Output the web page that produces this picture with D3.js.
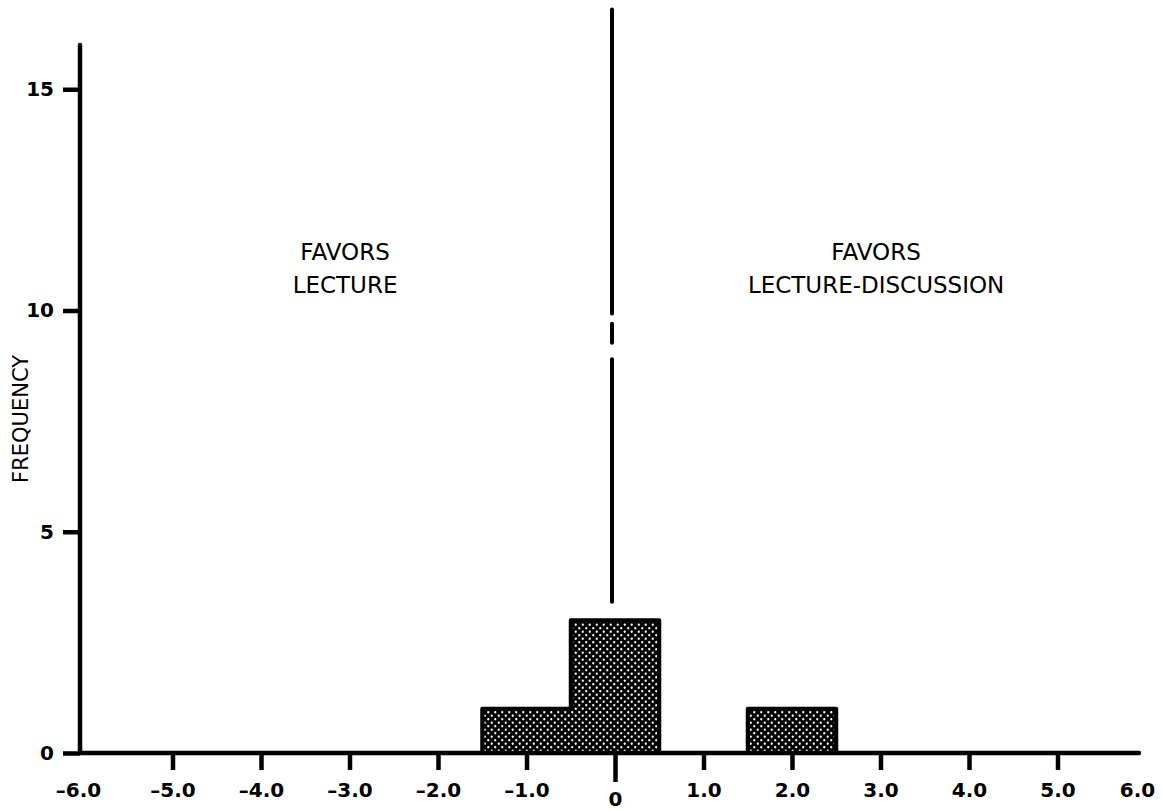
<!DOCTYPE html>
<html>
<head>
<meta charset="utf-8">
<script src="https://cdn.jsdelivr.net/npm/d3@7"></script>
<style>
  html, body { margin: 0; padding: 0; background: #fff; }
  svg { display: block; }
</style>
</head>
<body>
<svg id="chart" width="1162" height="811"></svg>
<script>
// ---- data ----
const binCenters = [-1, 0, 2];          // score bins (width 1.0)
const frequencies = [1, 3, 1];          // counts per bin
const xTicks = [-6, -5, -4, -3, -2, -1, 0, 1, 2, 3, 4, 5, 6];
const yTicks = [0, 5, 10, 15];
const leftLabel = ["FAVORS", "LECTURE"];
const rightLabel = ["FAVORS", "LECTURE-DISCUSSION"];
const yTitle = "FREQUENCY";

// ---- layout ----
const svg = d3.select("#chart");
const x = d3.scaleLinear().domain([-6, 6]).range([84, 1146]);
const y = d3.scaleLinear().domain([0, 16]).range([753, 45]);
const yAxisX = 80;
const ink = "#000";

// halftone pattern
const defs = svg.append("defs");
const pat = defs.append("pattern")
  .attr("id", "dots").attr("patternUnits", "userSpaceOnUse")
  .attr("width", 7).attr("height", 7);
pat.append("rect").attr("width", 7).attr("height", 7).attr("fill", ink);
pat.append("circle").attr("cx", 1.75).attr("cy", 1.75).attr("r", 1.15).attr("fill", "#fff");
pat.append("circle").attr("cx", 5.25).attr("cy", 5.25).attr("r", 1.15).attr("fill", "#fff");

// bars: outline first, then pattern fill merged across adjacent bars
const bars = binCenters.map((c, i) => ({ c, f: frequencies[i] }));
const fOf = c => { const b = bars.find(d => d.c === c); return b ? b.f : 0; };
const gb = svg.append("g");
gb.selectAll("rect.outline").data(bars).join("rect").attr("class", "outline")
  .attr("x", d => x(d.c - 0.5))
  .attr("y", d => y(d.f))
  .attr("width", d => x(d.c + 0.5) - x(d.c - 0.5))
  .attr("height", d => y(0) - y(d.f))
  .attr("fill", ink)
  .attr("stroke", ink).attr("stroke-width", 4).attr("stroke-linejoin", "round");
const sw = 2.2;
gb.selectAll("rect.fill").data(bars).join("rect").attr("class", "fill")
  .attr("x", d => x(d.c - 0.5) + (fOf(d.c - 1) > d.f ? -sw - 1 : sw))
  .attr("y", d => y(d.f) + sw)
  .attr("width", d => {
    const l = x(d.c - 0.5) + (fOf(d.c - 1) > d.f ? -sw - 1 : sw);
    const r = x(d.c + 0.5) + (fOf(d.c + 1) > d.f ? sw + 1 : -sw);
    return r - l;
  })
  .attr("height", d => y(0) - y(d.f) - sw)
  .attr("fill", "url(#dots)");

// x axis
const xAxis = d3.axisBottom(x)
  .tickValues(xTicks)
  .tickSize(17)
  .tickPadding(0)
  .tickFormat(d => d < 0 ? "\u2013" + Math.abs(d).toFixed(1) : d === 0 ? "0" : d.toFixed(1));
const gx = svg.append("g").attr("transform", `translate(0,${y(0)})`).call(xAxis);
gx.select(".domain").remove();
gx.selectAll(".tick line").attr("stroke", ink).attr("stroke-width", 4.5)
  .attr("y2", d => d === 0 ? 29 : 17)
  .style("display", d => (d === -6 || d === 6) ? "none" : null);
gx.selectAll(".tick text")
  .attr("y", d => d === 0 ? 39 : 30)
  .attr("dx", d => d === 6 ? -9 : d === -6 ? -6 : 0)
  .attr("fill", ink)
  .style("font-family", "'DejaVu Sans', sans-serif")
  .style("font-weight", "bold")
  .style("font-size", "20px");
// baseline
svg.append("line")
  .attr("x1", yAxisX).attr("x2", x(5.92))
  .attr("y1", y(0)).attr("y2", y(0))
  .attr("stroke", ink).attr("stroke-width", 4.5).attr("stroke-linecap", "round");

// y axis
const yAxis = d3.axisLeft(y).tickValues(yTicks).tickSize(17).tickPadding(9);
const gy = svg.append("g").attr("transform", `translate(${yAxisX},0)`).call(yAxis);
gy.select(".domain").remove();
gy.selectAll(".tick line").attr("stroke", ink).attr("stroke-width", 4.5);
gy.selectAll(".tick text")
  .attr("fill", ink)
  .style("font-family", "'DejaVu Sans', sans-serif")
  .style("font-weight", "bold")
  .style("font-size", "20px");
svg.append("line")
  .attr("x1", yAxisX).attr("x2", yAxisX)
  .attr("y1", y(0)).attr("y2", y(16))
  .attr("stroke", ink).attr("stroke-width", 4.5).attr("stroke-linecap", "round");

// y title
svg.append("text")
  .attr("transform", `translate(28,${y(7.55)}) rotate(-90)`)
  .attr("text-anchor", "middle")
  .attr("fill", ink)
  .style("font-family", "'DejaVu Sans', sans-serif")
  .style("font-size", "21px")
  .text(yTitle);

// center dividing line (segments in data units)
const centerSegs = [[3.42, 8.9], [9.27, 9.7], [9.93, 16.8]];
svg.append("g").selectAll("line").data(centerSegs).join("line")
  .attr("x1", x(0) - 3).attr("x2", x(0) - 3)
  .attr("y1", d => y(d[0])).attr("y2", d => y(d[1]))
  .attr("stroke", ink).attr("stroke-width", 4).attr("stroke-linecap", "round");

// region labels
function regionLabel(lines, xv) {
  const t = svg.append("text")
    .attr("x", x(xv)).attr("y", y(11.14))
    .attr("text-anchor", "middle").attr("fill", ink)
    .style("font-family", "'DejaVu Sans', sans-serif")
    .style("font-size", "23px");
  lines.forEach((s, i) => t.append("tspan").attr("x", x(xv)).attr("dy", i === 0 ? 0 : "1.43em").text(s));
}
regionLabel(leftLabel, -3.05);
regionLabel(rightLabel, 2.95);
</script>
</body>
</html>
